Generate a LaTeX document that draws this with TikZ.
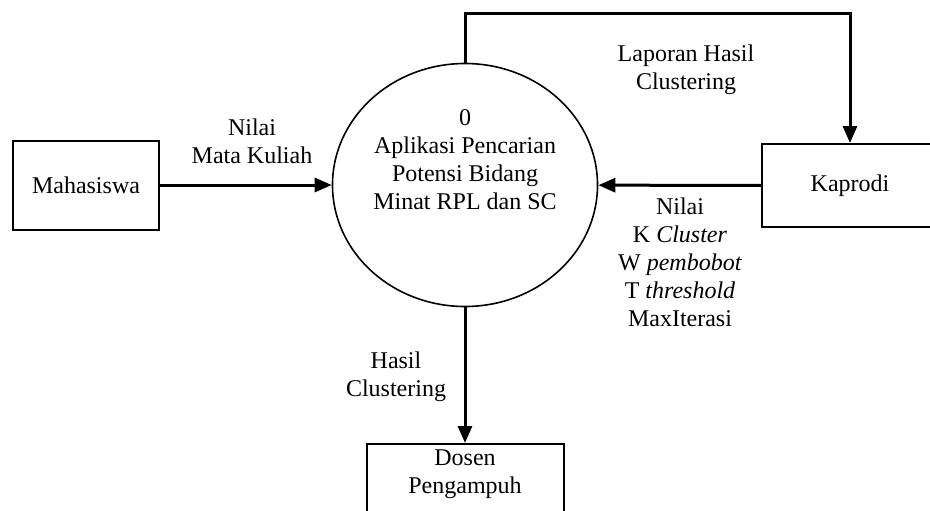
\documentclass[tikz,border=0pt]{standalone}
\usepackage{fontspec}
\setmainfont{Liberation Serif}
\usetikzlibrary{arrows.meta,shapes.geometric}
\tikzset{
	entity/.style={draw, line width=1pt, rectangle, inner sep=0pt, align=center},
	process/.style={draw, line width=0.8pt, ellipse, inner sep=0pt, minimum width=132.5pt, minimum height=121.5pt},
	flow/.style={line width=1.5pt, -{Triangle[length=8.5pt,width=7pt]}},
	flowtext/.style={align=center, inner sep=0pt}
}

\begin{document}
\begin{tikzpicture}[x=0.5pt, y=-0.5pt, font=\fontsize{12}{14}\selectfont]
			%%%%% START %%%%%
			\useasboundingbox (0, 0) rectangle (930, 510);
			
			\node[process] (proc) at (465, 185) {};
			\node[flowtext] (proctext) at (465, 160) {0\\Aplikasi Pencarian\\Potensi Bidang\\Minat RPL dan SC};
			
			\node[entity, minimum width=73pt, minimum height=44.5pt] (mhs) at (86, 185) {Mahasiswa};
			\node[entity, minimum width=88pt, minimum height=41.5pt] (kaprodi) at (850, 185.5) {Kaprodi};
			\node[entity, anchor=north, minimum width=98.5pt, minimum height=50pt] (dosen) at (465, 443) {};
			\node[flowtext] (dosentext) at (465, 474) {Dosen\\Pengampuh};
			
			\draw[flow] (mhs) -- (proc);
			\node[flowtext] (nilaimk) at (252, 141) {Nilai\\Mata Kuliah};
			
			\draw[flow] (kaprodi) -- (proc);
			\node[flowtext] (param) at (680, 262) {Nilai\\K \textit{Cluster}\\W \textit{pembobot}\\T \textit{threshold}\\MaxIterasi};
			
			\draw[flow] (proc.north) -- ++(0, -49) -| (kaprodi.north);
			\node[flowtext] (laporan) at (686, 70) {Laporan Hasil\\Clustering};
			
			\draw[flow] (proc.south) -- (dosen.north);
			\node[flowtext] (hasil) at (396, 377) {Hasil\\Clustering};
			
			%%%%% END %%%%%
\end{tikzpicture}
\end{document}
